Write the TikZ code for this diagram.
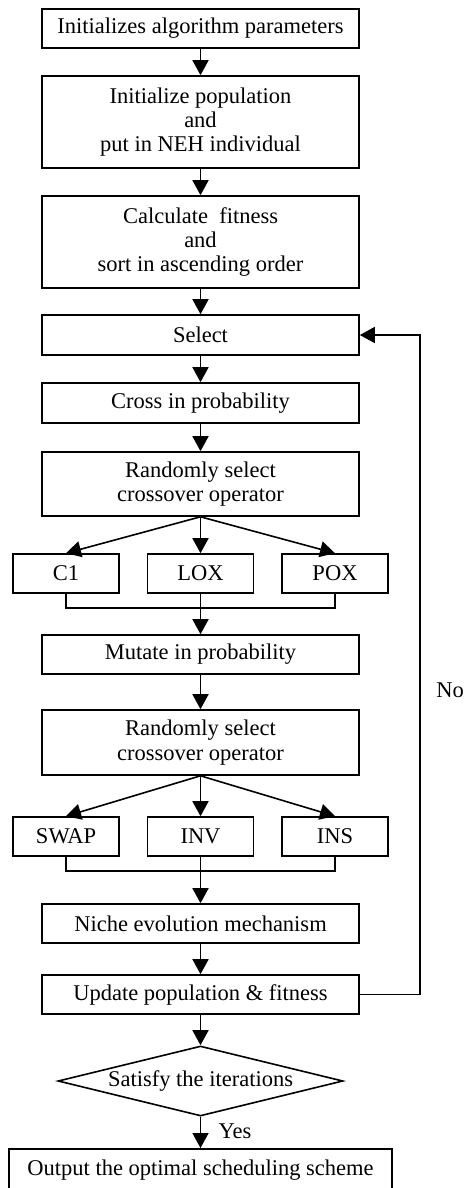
\documentclass[tikz,border=0pt]{standalone}
\usepackage{fontspec}
\setmainfont{Liberation Serif}
\usetikzlibrary{arrows.meta,shapes.geometric}
\begin{document}
\begin{tikzpicture}[x=1pt, y=-1pt, line join=miter,
	font=\fontsize{22.5}{24.2}\selectfont,
	>={Triangle[width=16pt,length=15pt]}]
	\tikzset{
		box/.style={draw, line width=1.6pt, minimum width=317pt, align=center, inner sep=0pt},
		opbox/.style={draw, line width=1.6pt, minimum width=106pt, minimum height=39pt, inner sep=0pt},
		decision/.style={draw, line width=1.6pt, diamond, aspect=4.07, minimum width=285pt, minimum height=70pt, inner sep=0pt},
		link/.style={line width=1.6pt}
	}
	\def \xmid{200.5}
	\useasboundingbox (0,0) rectangle (465,1188);
	% main column
	\node[box, minimum height=39pt] (param) at (\xmid,28.5) {Initializes algorithm parameters};
	\node[box, minimum height=92pt] (init) at (\xmid,122) {Initialize population\\and\\put in NEH individual};
	\node[box, minimum height=92pt] (fit) at (\xmid,242) {Calculate\ \ fitness\\and\\sort in ascending order};
	\node[box, minimum height=40pt] (select) at (\xmid,335) {Select};
	\node[box, minimum height=40pt] (cross) at (\xmid,403) {Cross in probability};
	\node[box, minimum height=64pt] (crosssel) at (\xmid,484) {Randomly select\\crossover operator};
	\node[opbox] (c1) at (66,573.5) {C1};
	\node[opbox] (lox) at (\xmid,573.5) {LOX};
	\node[opbox] (pox) at (335,573.5) {POX};
	\node[box, minimum height=39pt] (mutate) at (\xmid,654.5) {Mutate in probability};
	\node[box, minimum height=65pt] (mutsel) at (\xmid,742.5) {Randomly select\\crossover operator};
	\node[opbox] (swap) at (66,836.5) {SWAP};
	\node[opbox] (inv) at (\xmid,836.5) {INV};
	\node[opbox] (ins) at (335,836.5) {INS};
	\node[box, minimum height=39pt] (niche) at (\xmid,923.5) {Niche evolution mechanism};
	\node[box, minimum height=39pt] (update) at (\xmid,994.5) {Update population \& fitness};
	\node[decision] (iter) at (\xmid,1081) {Satisfy the iterations};
	\node[box, minimum width=383pt, minimum height=42pt, anchor=north] (output) at (\xmid,1148) {\raisebox{4pt}{Output the optimal scheduling scheme}};
	% arrows
	\draw[link,->] (param) -- (init);
	\draw[link,->] (init) -- (fit);
	\draw[link,->] (fit) -- (select);
	\draw[link,->] (select) -- (cross);
	\draw[link,->] (cross) -- (crosssel);
	\foreach \op in {c1,lox,pox}
		\draw[link,->] (crosssel.south) -- (\op.north);
	\coordinate (cmerge) at (\xmid,608);
	\draw[link] (c1.south) |- (cmerge) -| (pox.south);
	\draw[link] (lox.south) -- (cmerge);
	\draw[link,->] (cmerge) -- (mutate.north);
	\draw[link,->] (mutate) -- (mutsel);
	\foreach \op in {swap,inv,ins}
		\draw[link,->] (mutsel.south) -- (\op.north);
	\coordinate (mmerge) at (\xmid,871);
	\draw[link] (swap.south) |- (mmerge) -| (ins.south);
	\draw[link] (inv.south) -- (mmerge);
	\draw[link,->] (mmerge) -- (niche.north);
	\draw[link,->] (niche) -- (update);
	\draw[link,->] (update) -- (iter);
	\draw[link,->] (iter) -- (output) node[pos=0.45, right=14pt] (yes) {Yes};
	% loop back
	\coordinate (back) at (420,994.5);
	\draw[link,->] (update.east) -- (back) |- (select.east);
	\node (no) at (450,690) {No};
\end{tikzpicture}
\end{document}
